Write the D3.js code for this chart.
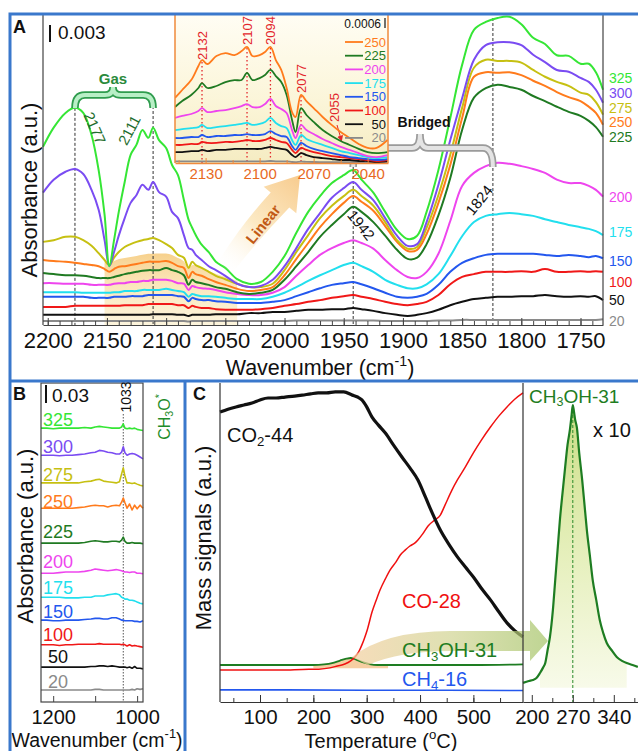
<!DOCTYPE html>
<html>
<head>
<meta charset="utf-8">
<script src="https://cdn.jsdelivr.net/npm/d3@7/dist/d3.min.js"></script>
<style>
html,body{margin:0;padding:0;background:#fff;}
svg{display:block;}
text{font-family:"Liberation Sans",Arial,Helvetica,sans-serif;}
</style>
</head>
<body>
<svg id="fig" width="638" height="751"></svg>
<script>
// ---------------- Panel A: CO region spectra (mAbs) ----------------
const wnA = [2204, 2195, 2185, 2177, 2170, 2163, 2157, 2152, 2148, 2144, 2140, 2135, 2130, 2125, 2120, 2115, 2111, 2106, 2100, 2095,
  2090, 2085, 2081, 2078, 2075, 2070, 2064, 2058, 2050, 2040, 2030, 2020, 2010, 2000, 1990, 1980, 1970, 1960, 1950, 1942,
  1935, 1925, 1915, 1905, 1896, 1888, 1880, 1870, 1860, 1850, 1840, 1830, 1820, 1810, 1800, 1790, 1780, 1770, 1760, 1750,
  1743, 1737, 1731];
const a325 = [31.5, 34.9, 37.5, 38.4, 37.5, 33.6, 27.4, 19.5, 10.4, 15.0, 20.0, 25.3, 30.1, 31.9, 34.5, 33.1, 34.9, 32.7, 31.3, 28.3,
  26.5, 22.1, 18.6, 17.2, 15.9, 14.2, 12.9, 11.2, 10.1, 8.1, 7.3, 7.6, 9.4, 12.2, 16.3, 20.0, 22.8, 25.1, 26.5, 27.4,
  25.7, 23.4, 20.0, 16.8, 15.2, 15.8, 20.0, 27.4, 36.6, 46.0, 52.2, 53.6, 54.3, 54.5, 53.2, 50.8, 49.7, 47.7, 47.6, 46.2,
  46.2, 44.7, 41.6];
const a300 = [23.4, 25.7, 27.1, 27.6, 26.7, 23.9, 20.4, 15.0, 10.4, 12.9, 15.8, 18.9, 21.6, 23.0, 24.8, 23.9, 25.3, 23.5, 22.7, 20.0,
  18.9, 15.9, 13.6, 13.3, 12.4, 11.5, 10.4, 9.7, 8.7, 7.3, 6.7, 6.9, 8.0, 10.4, 13.6, 17.0, 19.8, 22.5, 24.2, 25.3,
  23.9, 22.1, 18.9, 15.8, 14.0, 14.3, 18.2, 24.8, 32.7, 40.1, 46.9, 49.5, 50.0, 50.0, 49.5, 47.8, 46.5, 45.1, 44.8, 43.7,
  43.0, 41.6, 39.3];
const a275 = [14.7, 15.0, 15.6, 15.6, 15.0, 14.0, 12.7, 11.5, 10.6, 11.9, 12.9, 13.8, 14.3, 14.7, 15.0, 15.2, 15.4, 15.0, 14.3, 13.6,
  12.4, 11.9, 10.1, 11.2, 10.6, 10.1, 9.4, 8.7, 8.1, 7.3, 6.7, 6.7, 7.3, 9.7, 12.9, 15.9, 18.9, 21.1, 22.8, 23.9,
  22.8, 21.1, 18.2, 15.0, 13.5, 13.8, 17.2, 23.0, 30.1, 38.4, 45.5, 46.9, 46.7, 46.7, 46.4, 45.1, 43.9, 43.0, 42.3, 41.1,
  40.7, 39.4, 37.2];
const a250 = [11.5, 11.3, 11.2, 11.0, 10.8, 10.6, 10.4, 9.9, 9.4, 9.9, 10.3, 10.4, 10.6, 10.8, 11.0, 11.2, 11.2, 11.2, 11.3, 11.0,
  10.4, 10.1, 8.3, 9.4, 9.0, 8.7, 8.1, 7.6, 7.1, 6.4, 6.0, 6.2, 6.7, 8.8, 11.7, 14.5, 17.3, 19.6, 21.6, 22.8,
  21.8, 20.2, 17.5, 14.7, 13.1, 13.3, 16.1, 21.6, 28.3, 36.6, 43.9, 44.7, 44.6, 44.7, 44.2, 43.2, 42.3, 41.2, 40.3, 39.6,
  38.6, 37.5, 35.4];
const a225 = [9.2, 9.0, 8.8, 8.8, 8.7, 8.5, 8.3, 8.3, 8.3, 8.5, 8.7, 9.0, 9.2, 9.4, 9.6, 9.7, 9.7, 9.7, 10.1, 9.7,
  9.4, 8.8, 7.1, 8.0, 7.6, 7.4, 7.1, 6.7, 6.4, 5.8, 5.5, 5.7, 6.2, 8.0, 10.4, 12.9, 15.6, 17.7, 19.6, 20.9,
  20.0, 18.2, 15.8, 13.3, 11.7, 11.9, 14.3, 19.4, 26.0, 34.5, 40.2, 41.9, 42.5, 42.1, 41.6, 40.5, 39.6, 38.6, 37.7, 37.0,
  36.1, 35.0, 33.3];
const a200 = [7.4, 7.4, 7.3, 7.3, 7.3, 7.1, 7.1, 7.1, 7.1, 7.3, 7.4, 7.4, 7.6, 7.6, 7.8, 7.8, 8.0, 8.0, 8.0, 7.8,
  7.4, 7.3, 6.2, 6.9, 6.7, 6.5, 6.4, 6.2, 5.8, 5.5, 5.3, 5.3, 5.7, 6.7, 8.7, 10.6, 12.4, 13.6, 14.5, 15.0,
  14.5, 13.5, 11.5, 9.7, 8.5, 8.3, 9.4, 12.6, 18.4, 24.6, 26.9, 28.1, 28.7, 28.5, 28.1, 27.6, 26.9, 25.7, 25.1, 25.1,
  24.6, 23.9, 22.7];
const a175 = [5.8, 5.8, 5.8, 5.8, 5.7, 5.7, 5.7, 5.7, 5.7, 5.8, 5.8, 6.0, 6.0, 6.0, 6.2, 6.2, 6.2, 6.2, 6.4, 6.2,
  6.0, 5.8, 5.0, 5.5, 5.3, 5.1, 5.1, 5.0, 4.8, 4.6, 4.6, 4.6, 5.0, 5.7, 6.7, 7.8, 8.8, 9.7, 10.6, 11.0,
  10.4, 9.4, 8.0, 7.1, 6.5, 6.5, 7.2, 9.0, 12.2, 15.7, 18.2, 19.3, 19.6, 19.8, 19.6, 19.3, 18.7, 18.2, 17.7, 17.3,
  17.0, 16.6, 15.9];
const a150 = [5.0, 5.0, 5.0, 5.0, 5.0, 4.8, 4.8, 4.8, 4.8, 5.0, 5.0, 5.0, 5.1, 5.1, 5.1, 5.3, 5.3, 5.3, 5.3, 5.3,
  5.1, 5.0, 4.2, 4.8, 4.6, 4.4, 4.4, 4.2, 4.1, 3.9, 3.9, 3.9, 4.1, 4.4, 5.1, 5.8, 6.5, 7.1, 7.4, 7.6,
  7.2, 6.5, 5.7, 5.0, 4.8, 5.0, 5.5, 7.1, 9.4, 11.0, 11.8, 12.4, 12.6, 12.6, 12.6, 12.6, 12.4, 12.2, 12.4, 12.2,
  12.0, 12.2, 11.8];
const a100 = [3.2, 3.2, 3.2, 3.4, 3.4, 3.4, 3.4, 3.4, 3.4, 3.4, 3.4, 3.5, 3.5, 3.5, 3.5, 3.7, 3.7, 3.7, 3.7, 3.7,
  3.5, 3.5, 3.0, 3.4, 3.2, 3.0, 3.0, 2.8, 2.7, 2.7, 2.7, 2.8, 3.0, 3.4, 3.7, 4.1, 4.4, 4.8, 5.1, 5.3,
  5.0, 4.6, 4.1, 3.7, 3.5, 3.7, 4.1, 5.3, 7.2, 8.5, 9.0, 9.4, 9.4, 9.4, 9.5, 9.4, 9.9, 9.4, 9.4, 9.5,
  9.4, 9.5, 9.4];
const a50 = [1.8, 1.8, 1.8, 1.8, 1.8, 1.8, 1.8, 1.8, 1.8, 1.8, 1.8, 1.8, 1.8, 1.8, 1.8, 1.8, 1.9, 1.9, 1.9, 1.9,
  1.8, 1.8, 1.6, 1.8, 1.8, 1.8, 1.8, 1.9, 1.9, 1.9, 2.1, 2.1, 2.3, 2.3, 2.5, 2.7, 2.7, 2.8, 2.8, 3.0,
  2.8, 2.5, 2.1, 1.8, 1.6, 1.8, 2.1, 2.7, 3.5, 4.1, 4.6, 4.8, 5.0, 5.0, 5.1, 5.1, 5.3, 5.1, 5.0, 5.1,
  5.0, 5.1, 4.4];
const a20 = [0.7, 0.7, 0.7, 0.7, 0.7, 0.7, 0.7, 0.7, 0.7, 0.7, 0.7, 0.7, 0.7, 0.7, 0.7, 0.7, 0.7, 0.7, 0.7, 0.7,
  0.7, 0.7, 0.6, 0.7, 0.7, 0.7, 0.7, 0.7, 0.7, 0.7, 0.7, 0.7, 0.7, 0.7, 0.8, 0.8, 0.8, 0.8, 0.8, 0.8,
  0.8, 0.8, 0.7, 0.7, 0.7, 0.7, 0.7, 0.8, 0.8, 0.9, 0.9, 0.9, 0.9, 0.9, 0.9, 0.9, 0.9, 0.9, 0.9, 0.9,
  0.9, 0.9, 1.0];
const tempsA = ["20", "50", "100", "150", "175", "200", "225", "250", "275", "300", "325"];
const bandsA = [2177, 2111, 1942, 1824];
const ticksA = [2200, 2150, 2100, 2050, 2000, 1950, 1900, 1850, 1800, 1750];

// ---------------- Inset of panel A (mAbs) ----------------
const wnInset = [2147, 2143, 2138, 2134, 2132, 2129, 2124, 2119, 2114, 2110, 2107, 2104, 2100, 2097, 2094, 2091, 2088, 2085, 2082, 2080,
  2077, 2074, 2070, 2065, 2060, 2055, 2050, 2045, 2040, 2035, 2029];
const i250 = [3.93, 4.41, 5.01, 5.86, 6.22, 5.98, 6.46, 6.64, 6.52, 6.76, 7.01, 6.46, 6.52, 6.70, 7.01, 6.22, 5.62, 4.53, 3.08, 2.78,
  4.11, 3.74, 3.32, 2.78, 2.30, 1.87, 1.51, 1.15, 0.91, 0.91, 1.39];
const i225 = [3.38, 3.74, 4.11, 4.53, 4.83, 4.53, 4.65, 4.89, 5.01, 5.01, 5.44, 5.01, 5.13, 5.32, 5.62, 5.25, 4.89, 4.11, 2.60, 1.87,
  3.32, 2.90, 2.48, 1.99, 1.63, 1.33, 1.09, 0.85, 0.66, 0.60, 0.66];
const i200 = [2.72, 2.84, 2.96, 3.14, 3.32, 3.08, 3.14, 3.20, 3.32, 3.44, 3.56, 3.38, 3.38, 3.56, 3.87, 3.44, 3.26, 3.02, 1.99, 1.51,
  2.30, 1.99, 1.75, 1.45, 1.21, 0.97, 0.79, 0.60, 0.42, 0.36, 0.48];
const i175 = [1.99, 2.05, 2.11, 2.17, 2.30, 2.11, 2.17, 2.23, 2.30, 2.36, 2.42, 2.30, 2.36, 2.48, 2.72, 2.42, 2.23, 2.11, 1.39, 1.09,
  1.69, 1.45, 1.27, 1.09, 0.91, 0.72, 0.60, 0.48, 0.36, 0.30, 0.36];
const i150 = [1.51, 1.51, 1.57, 1.57, 1.69, 1.57, 1.63, 1.63, 1.69, 1.69, 1.75, 1.69, 1.69, 1.75, 1.93, 1.75, 1.63, 1.57, 1.03, 0.79,
  1.21, 1.03, 0.85, 0.72, 0.60, 0.48, 0.36, 0.30, 0.24, 0.18, 0.24];
const i100 = [1.09, 1.09, 1.15, 1.15, 1.27, 1.21, 1.21, 1.27, 1.27, 1.33, 1.39, 1.33, 1.33, 1.39, 1.51, 1.39, 1.27, 1.21, 0.79, 0.60,
  0.91, 0.79, 0.66, 0.54, 0.42, 0.36, 0.30, 0.24, 0.18, 0.12, 0.18];
const i50 = [0.66, 0.66, 0.72, 0.72, 0.79, 0.72, 0.79, 0.79, 0.85, 0.85, 0.85, 0.85, 0.85, 0.91, 0.97, 0.91, 0.85, 0.79, 0.48, 0.36,
  0.60, 0.48, 0.36, 0.30, 0.24, 0.18, 0.18, 0.12, 0.12, 0.06, 0.12];
const i20 = [0.10, 0.10, 0.10, 0.10, 0.10, 0.10, 0.10, 0.10, 0.10, 0.10, 0.10, 0.10, 0.10, 0.10, 0.12, 0.10, 0.10, 0.10, 0.06, 0.05,
  0.08, 0.07, 0.06, 0.05, 0.05, 0.05, 0.05, 0.05, 0.05, 0.05, 0.05];
const tempsInset = ["250", "225", "200", "175", "150", "100", "50", "20"];
const peaksInset = [2132, 2107, 2094, 2077];
const ticksInset = [2130, 2100, 2070, 2040];

// ---------------- Panel B: methoxy region (mAbs) ----------------
const wnB = [1229, 1215, 1200, 1185, 1170, 1155, 1140, 1125, 1110, 1100, 1090, 1080, 1070, 1060, 1050, 1042, 1037, 1033, 1029, 1024,
  1018, 1012, 1006, 1000, 993, 986];
const b325 = [455, 455, 454, 455, 455, 455, 455, 456, 455, 457, 458, 457, 456, 455, 455, 455, 457, 462, 455, 454, 455, 454, 455, 453, 452, 451];
const b300 = [410, 410, 410, 409, 410, 410, 411, 412, 414, 415, 418, 417, 415, 414, 412, 412, 415, 424, 414, 410, 412, 413, 412, 410, 407, 404];
const b275 = [364, 364, 364, 364, 364, 364, 364, 366, 367, 369, 370, 367, 366, 365, 364, 366, 379, 389, 375, 364, 364, 363, 364, 362, 360, 359];
const b250 = [322, 322, 322, 322, 322, 322, 323, 324, 326, 327, 326, 326, 324, 326, 327, 326, 332, 339, 331, 322, 329, 319, 327, 321, 327, 322];
const b225 = [264, 264, 264, 264, 264, 264, 264, 265, 267, 268, 267, 266, 266, 267, 267, 266, 269, 274, 267, 264, 264, 265, 264, 264, 264, 263];
const b200 = [214, 214, 214, 215, 216, 216, 216, 217, 219, 221, 220, 219, 218, 219, 220, 219, 218, 217, 216, 216, 215, 216, 216, 214, 214, 213];
const b175 = [174, 174, 174, 174, 173, 173, 173, 174, 174, 176, 176, 176, 178, 179, 180, 178, 174, 173, 171, 171, 169, 169, 168, 166, 164, 163];
const b150 = [136, 136, 135, 135, 136, 136, 136, 137, 138, 139, 139, 138, 138, 140, 140, 138, 136, 136, 135, 135, 135, 135, 134, 134, 133, 135];
const b100 = [95, 95, 95, 94, 95, 95, 96, 96, 96, 96, 97, 96, 96, 96, 96, 96, 95, 96, 95, 93, 95, 93, 94, 93, 92, 91];
const b50 = [58, 58, 58, 58, 58, 58, 58, 58, 59, 59, 60, 60, 59, 60, 59, 58, 58, 58, 58, 57, 58, 56, 59, 56, 56, 55];
const b20 = [20, 20, 20, 20, 20, 20, 20, 20, 20, 21, 21, 20, 20, 20, 20, 20, 20, 20, 20, 20, 20, 21, 20, 22, 21, 22];
const tempsB = ["325", "300", "275", "250", "225", "200", "175", "150", "100", "50", "20"];
const ticksB = [1200, 1100, 1000];

// ---------------- Panel C: mass signals during TPSR (a.u.) ----------------
const tCO2 = [25, 40, 55, 70, 85, 100, 115, 130, 147, 165, 179, 195, 209, 225, 241, 257, 273, 283, 291, 300,
  310, 322, 335, 350, 366, 381, 396, 410, 423, 438, 455, 470, 485, 500, 516, 532, 548, 563, 578, 593];
const co2 = [90.9, 91.8, 92.5, 93.1, 93.7, 94.7, 95.3, 95.3, 95.6, 95.9, 96.2, 96.6, 96.9, 96.9, 97.2, 97.2, 96.2, 95.6, 94.7, 92.5,
  89.3, 86.8, 84.3, 80.6, 76.8, 73.4, 69.6, 64.3, 59.2, 53.9, 49.2, 45.5, 42.3, 39.2, 35.4, 32.0, 28.2, 24.8, 22.3, 20.4];
const tCO = [25, 60, 100, 140, 180, 210, 231, 245, 259, 270, 278, 285, 291, 296, 301, 310, 318, 325, 335, 344,
  355, 363, 372, 381, 390, 396, 405, 415, 428, 438, 447, 460, 470, 485, 500, 515, 532, 548, 563, 578, 593];
const co = [10.0, 10.0, 10.0, 10.0, 10.2, 10.3, 10.7, 11.3, 11.9, 12.9, 14.1, 15.7, 17.9, 20.1, 22.6, 28.2, 32.0, 35.1, 38.6, 41.4,
  43.9, 46.1, 47.6, 48.9, 49.8, 50.8, 52.7, 55.2, 57.1, 58.6, 61.8, 66.5, 69.6, 73.7, 78.1, 82.1, 86.2, 89.7, 92.5, 95.0, 96.9];
const tMeOH = [25, 100, 200, 220, 235, 250, 262, 270, 280, 292, 305, 320, 340, 400, 500, 593];
const meoh = [11.6, 11.6, 11.6, 11.8, 12.2, 13.0, 13.6, 13.8, 13.3, 12.5, 11.9, 11.6, 11.6, 11.6, 11.6, 11.8];
const tCH4 = [25, 150, 300, 450, 593];
const ch4 = [3.8, 3.8, 3.7, 3.7, 3.6];
const tZoom = [185, 195, 202, 208, 214, 219, 223, 227, 231, 236, 240, 244, 248, 253, 257, 261, 265, 268, 270, 272,
  274, 277, 281, 286, 290, 294, 299, 304, 310, 316, 322, 328, 336, 345, 354, 362, 372, 381];
const meohX10 = [6.0, 6.6, 6.9, 7.5, 9.1, 10.7, 12.2, 16.3, 20.4, 28.8, 38.2, 47.6, 57.1, 66.5, 73.7, 80.6, 85.3, 90.0, 93.1, 91.0,
  88.5, 86.0, 78.0, 69.6, 61.8, 53.9, 46.1, 38.2, 32.0, 25.7, 21.6, 18.5, 16.3, 14.1, 12.9, 12.2, 11.6, 11.0];
const ticksC = [100, 200, 300, 400, 500];
const ticksZoom = [200, 270, 340];
const peakZoom = 270;

// ---------------- drawing ----------------
const palette = {
  "325": "#35e635", "300": "#7a4cf2", "275": "#c6c012", "250": "#ff7b1c", "225": "#1f7a22",
  "200": "#ee45ee", "175": "#22dfee", "150": "#2357ee", "100": "#f01818", "50": "#111111", "20": "#8a8a8a"
};
const dataA = {"325": a325, "300": a300, "275": a275, "250": a250, "225": a225, "200": a200, "175": a175, "150": a150, "100": a100, "50": a50, "20": a20};
const dataInset = {"250": i250, "225": i225, "200": i200, "175": i175, "150": i150, "100": i100, "50": i50, "20": i20};
const dataB = {"325": b325, "300": b300, "275": b275, "250": b250, "225": b225, "200": b200, "175": b175, "150": b150, "100": b100, "50": b50, "20": b20};

const svg = d3.select("#fig");
const defs = svg.append("defs");
const INK = "#111";

function linGrad(id, x1, y1, x2, y2, stops, userSpace) {
  const g = defs.append("linearGradient").attr("id", id)
    .attr("x1", x1).attr("y1", y1).attr("x2", x2).attr("y2", y2);
  if (userSpace) g.attr("gradientUnits", "userSpaceOnUse");
  stops.forEach(s => g.append("stop").attr("offset", s[0]).attr("stop-color", s[1]).attr("stop-opacity", s[2] == null ? 1 : s[2]));
}
function rich(sel, parts, size) {
  let shift = 0;
  parts.forEach(p => {
    const target = p[1] === "sub" ? size * 0.18 : p[1] === "sup" ? -size * 0.42 : 0;
    const ts = sel.append("tspan").attr("dy", target - shift).text(p[0]);
    if (p[1]) ts.attr("font-size", size * 0.66);
    shift = target;
  });
}
function styleAxis(g, size, color) {
  g.attr("font-family", null).attr("font-size", size).attr("color", color || "#333");
  g.selectAll("text").attr("fill", INK);
}
function bracket(g, x1, x2, xm, yEnd, yBar, yTip, outer, inner) {
  const r = 10, r2 = 8;
  const d = `M${x1},${yEnd} Q${x1},${yBar} ${x1 + r},${yBar} L${xm - r2},${yBar} Q${xm},${yBar} ${xm},${yTip} ` +
    `Q${xm},${yBar} ${xm + r2},${yBar} L${x2 - r},${yBar} Q${x2},${yBar} ${x2},${yEnd}`;
  g.append("path").attr("d", d).attr("fill", "none").attr("stroke", outer).attr("stroke-width", 7.5);
  g.append("path").attr("d", d).attr("fill", "none").attr("stroke", inner).attr("stroke-width", 4);
}

// ===== Panel A =====
const xA = d3.scaleLinear().domain([2204, 1731]).range([43, 603]);
const yA = d3.scaleLinear().domain([0, 55]).range([325, 14]);
const gA = svg.append("g");

linGrad("shadeA", 0, 0, 0, 1, [[0, "#f5c570", 0.8], [0.45, "#f8da98", 0.65], [1, "#fbeec6", 0.6]]);
const shadeIdx = d3.range(wnA.length).filter(i => wnA[i] <= 2152 && wnA[i] >= 2040);
gA.append("path").datum(shadeIdx)
  .attr("d", d3.area().x(i => xA(wnA[i])).y0(yA(0)).y1(i => yA(a250[i]) - 8).curve(d3.curveBasis))
  .attr("fill", "url(#shadeA)");

// band markers
const bandTop = {2177: yA(a325[3]), 2111: 106, 1942: 166, 1824: 18};
bandsA.forEach(b => gA.append("line").attr("x1", xA(b)).attr("x2", xA(b)).attr("y1", bandTop[b]).attr("y2", yA(0))
  .attr("stroke", "#333").attr("stroke-width", 1).attr("stroke-dasharray", "3,2"));

const lineA = d3.line().x((d, i) => xA(wnA[i])).y(d => yA(d)).curve(d3.curveCatmullRom.alpha(0.5));
tempsA.forEach(t => gA.append("path").datum(dataA[t]).attr("d", lineA)
  .attr("fill", "none").attr("stroke", palette[t]).attr("stroke-width", 2).attr("stroke-linejoin", "round"));

// frame and axis
gA.append("path").attr("d", `M43,14 V325 M603,14 V325`).attr("stroke", "#444").attr("stroke-width", 1.2);
gA.append("g").attr("transform", "translate(0,325)")
  .call(d3.axisBottom(xA).tickValues(d3.range(2200, 1735, -10)).tickSize(-4).tickSizeOuter(0).tickFormat(""))
  .call(g => g.select(".domain").remove()).call(g => styleAxis(g, 10, "#444"));
gA.append("g").attr("transform", "translate(0,325)")
  .call(d3.axisBottom(xA).tickValues(ticksA).tickSize(-7).tickSizeOuter(0).tickPadding(7).tickFormat(d3.format("d")))
  .call(g => styleAxis(g, 22, "#444"));

const tAx = gA.append("text").attr("x", 320).attr("y", 375).attr("text-anchor", "middle").attr("font-size", 21.5).attr("fill", INK);
rich(tAx, [["Wavenumber (cm", null], ["-1", "sup"], [")", null]], 21.5);
gA.append("text").attr("transform", "translate(37,190) rotate(-90)").attr("text-anchor", "middle")
  .attr("font-size", 22).attr("fill", INK).text("Absorbance (a.u.)");

// series labels on the right
const labelYA = {"325": 78, "300": 93, "275": 107.5, "250": 122, "225": 136.5, "200": 197, "175": 232, "150": 261, "100": 282, "50": 300, "20": 321};
tempsA.forEach(t => gA.append("text").attr("x", 609).attr("y", labelYA[t] + 5).attr("font-size", 14)
  .attr("fill", palette[t]).text(t));

// scale bar + panel letter
gA.append("text").attr("x", 13).attr("y", 33).attr("font-size", 18).attr("font-weight", "bold").attr("fill", INK).text("A");
gA.append("line").attr("x1", 50).attr("x2", 50).attr("y1", 42).attr("y2", 42 - (yA(0) - yA(3))).attr("stroke", INK).attr("stroke-width", 2);
gA.append("text").attr("x", 58).attr("y", 39).attr("font-size", 19).attr("fill", INK).text("0.003");

// linear-CO arrow
linGrad("linArrow", 225, 268, 300, 175, [[0, "#ffffff", 0.1], [0.45, "#fbe2b0", 0.75], [1, "#f6c27a", 0.85]], true);
gA.append("path")
  .attr("d", "M218,262.3 Q240,226 270.7,192.5 L263.7,186.8 L300.1,175.1 L296.3,213.2 L289.3,207.5 Q256,242 232,273.7 Z")
  .attr("fill", "url(#linArrow)");
gA.append("text").attr("transform", "translate(263,224) rotate(-51)").attr("text-anchor", "middle")
  .attr("dominant-baseline", "central").attr("font-size", 15).attr("font-weight", "bold").attr("fill", "#c25a16").text("Linear");

// gas-phase bracket
bracket(gA, xA(2177), xA(2111), 113, 108, 95, 87, "#2f9c4e", "#b8efc6");
gA.append("text").attr("x", 113).attr("y", 84).attr("text-anchor", "middle").attr("font-size", 15)
  .attr("font-weight", "bold").attr("fill", "#2b8a3c").text("Gas");

// rotated band labels
const bandLab = [
  {wn: 2177, dx: 20, y: 128, rot: 66, c: "#1f6e2e"},
  {wn: 2111, dx: -24, y: 130, rot: -62, c: "#1f6e2e"},
  {wn: 1942, dx: 8, y: 225, rot: 51, c: INK},
  {wn: 1824, dx: -14, y: 200, rot: -51, c: INK}
];
bandLab.forEach(b => gA.append("text")
  .attr("transform", `translate(${xA(b.wn) + b.dx},${b.y}) rotate(${b.rot})`)
  .attr("text-anchor", "middle").attr("dominant-baseline", "central").attr("font-size", 15).attr("fill", b.c).text(b.wn));

// ===== Inset =====
const xI = d3.scaleLinear().domain([2147, 2028.7]).range([175, 388]);
const yI = d3.scaleLinear().domain([0, 9]).range([163, 14]);
const gI = svg.append("g");
linGrad("insetBg", 0, 0, 0, 1, [[0, "#fffdf4"], [0.6, "#fbf5d8"], [1, "#f5ecc2"]]);
gI.append("rect").attr("x", 175).attr("y", 14).attr("width", 213).attr("height", 149).attr("fill", "url(#insetBg)");
defs.append("clipPath").attr("id", "clipI").append("rect").attr("x", 175).attr("y", 14).attr("width", 213).attr("height", 149);

const peakTop = {2132: 62, 2107: 48, 2094: 48, 2077: 96};
const peakLab = {2132: 60, 2107: 45, 2094: 45, 2077: 93};
peaksInset.forEach(p => {
  gI.append("line").attr("x1", xI(p)).attr("x2", xI(p)).attr("y1", peakTop[p]).attr("y2", 163)
    .attr("stroke", "#e3262b").attr("stroke-width", 1.3).attr("stroke-dasharray", "1.5,2.5");
  gI.append("text").attr("transform", `translate(${xI(p) + 4.6},${peakLab[p]}) rotate(-90)`)
    .attr("font-size", 13).attr("fill", "#e3262b").text(p);
});
gI.append("text").attr("transform", `translate(339,122) rotate(-90)`).attr("font-size", 13).attr("fill", "#e3262b").text("2055");
defs.append("marker").attr("id", "redHead").attr("viewBox", "0 0 10 10").attr("refX", 9).attr("refY", 5)
  .attr("markerWidth", 6).attr("markerHeight", 6).attr("orient", "auto")
  .append("path").attr("d", "M0,0 L10,5 L0,10 Z").attr("fill", "#e3262b");
gI.append("line").attr("x1", 337).attr("y1", 125).attr("x2", xI(2055) + 1).attr("y2", 141)
  .attr("stroke", "#e3262b").attr("stroke-width", 1).attr("marker-end", "url(#redHead)");

const lineI = d3.line().x((d, i) => xI(wnInset[i])).y(d => yI(d)).curve(d3.curveCatmullRom.alpha(0.5));
const gIc = gI.append("g").attr("clip-path", "url(#clipI)");
tempsInset.slice().reverse().forEach(t => gIc.append("path").datum(dataInset[t]).attr("d", lineI)
  .attr("fill", "none").attr("stroke", palette[t]).attr("stroke-width", 1.8).attr("stroke-linejoin", "round"));

gI.append("path").attr("d", "M175,14 V163 M388,14 V163").attr("stroke", "#f08a3c").attr("stroke-width", 1.5);
gI.append("g").attr("transform", "translate(0,163)")
  .call(d3.axisBottom(xI).tickValues([2145, 2115, 2085, 2055]).tickSize(-3).tickSizeOuter(0).tickFormat(""))
  .call(g => g.select(".domain").remove()).call(g => styleAxis(g, 10, "#f08a3c"));
gI.append("g").attr("transform", "translate(0,163)")
  .call(d3.axisBottom(xI).tickValues(ticksInset).tickSize(-5).tickSizeOuter(0).tickPadding(5).tickFormat(d3.format("d")))
  .call(g => { styleAxis(g, 15, "#f08a3c"); g.select(".domain").attr("stroke-width", 1.5); g.selectAll("text").attr("fill", "#e8691e"); });

// inset legend
gI.append("text").attr("x", 381).attr("y", 28).attr("text-anchor", "end").attr("font-size", 12).attr("fill", INK).text("0.0006");
gI.append("line").attr("x1", 385).attr("x2", 385).attr("y1", 28).attr("y2", 28 - (yI(0) - yI(0.6))).attr("stroke", INK).attr("stroke-width", 1.2);
tempsInset.forEach((t, k) => {
  const y = 42 + k * 13.7;
  gI.append("line").attr("x1", 345).attr("x2", 363).attr("y1", y).attr("y2", y).attr("stroke", palette[t]).attr("stroke-width", 1.8);
  gI.append("text").attr("x", 386).attr("y", y + 4.5).attr("text-anchor", "end").attr("font-size", 13).attr("fill", palette[t]).text(t);
});

// bridged-CO bracket (over the inset)
bracket(gA.append("g"), xA(1942), xA(1824), 420, 167, 148, 134, "#9b9b9b", "#e4e4e4");
svg.append("text").attr("x", 424).attr("y", 127).attr("text-anchor", "middle").attr("font-size", 14)
  .attr("font-weight", "bold").attr("fill", INK).text("Bridged");

// ===== Panel B =====
const xB = d3.scaleLinear().domain([1229, 986]).range([41, 143]);
const yB = d3.scaleLinear().domain([0, 530]).range([702, 383]);
const gB = svg.append("g");
gB.append("line").attr("x1", xB(1033)).attr("x2", xB(1033)).attr("y1", 414).attr("y2", 702)
  .attr("stroke", "#555").attr("stroke-width", 1).attr("stroke-dasharray", "1.5,1.5");
const lineB = d3.line().x((d, i) => xB(wnB[i])).y(d => yB(d)).curve(d3.curveLinear);
tempsB.forEach(t => gB.append("path").datum(dataB[t]).attr("d", lineB)
  .attr("fill", "none").attr("stroke", palette[t]).attr("stroke-width", 1.6).attr("stroke-linejoin", "round"));
gB.append("rect").attr("x", 41).attr("y", 383).attr("width", 102).attr("height", 319)
  .attr("fill", "none").attr("stroke", "#444").attr("stroke-width", 1.2);
gB.append("g").attr("transform", "translate(0,702)")
  .call(d3.axisBottom(xB).tickValues(ticksB).tickSize(-6).tickSizeOuter(0).tickPadding(8)
    .tickFormat(d => (d === 1100 ? "" : d)))
  .call(g => g.select(".domain").remove()).call(g => styleAxis(g, 20, "#444"));
const labelYB = {"325": 420, "300": 447, "275": 475, "250": 502, "225": 532, "200": 562, "175": 588, "150": 612, "100": 635, "50": 657, "20": 682};
tempsB.forEach(t => gB.append("text").attr("x", 58).attr("y", labelYB[t] + 6).attr("text-anchor", "middle")
  .attr("font-size", 18).attr("fill", palette[t]).text(t));
gB.append("text").attr("x", 13).attr("y", 400).attr("font-size", 18).attr("font-weight", "bold").attr("fill", INK).text("B");
gB.append("line").attr("x1", 46).attr("x2", 46).attr("y1", 403).attr("y2", 403 - (yB(0) - yB(30))).attr("stroke", INK).attr("stroke-width", 2);
gB.append("text").attr("x", 52).attr("y", 402).attr("font-size", 19).attr("fill", INK).text("0.03");
gB.append("text").attr("transform", `translate(${xB(1033) + 8},397) rotate(-90)`).attr("text-anchor", "middle")
  .attr("font-size", 14).attr("fill", INK).text("1033");
const ch3o = gB.append("text").attr("transform", "translate(170,417) rotate(-90)").attr("text-anchor", "middle")
  .attr("font-size", 16).attr("fill", "#1e8c2a");
rich(ch3o, [["CH", null], ["3", "sub"], ["O", null], ["*", "sup"]], 16);
gB.append("text").attr("transform", "translate(33,536) rotate(-90)").attr("text-anchor", "middle")
  .attr("font-size", 22).attr("fill", INK).text("Absorbance (a.u.)");
const tBx = gB.append("text").attr("x", 97).attr("y", 746.5).attr("text-anchor", "middle").attr("font-size", 19.5).attr("fill", INK);
rich(tBx, [["Wavenumber (cm", null], ["-1", "sup"], [")", null]], 19.5);

// ===== Panel C =====
const xC = d3.scaleLinear().domain([25, 593]).range([220, 523]);
const yC = d3.scaleLinear().domain([0, 100]).range([702, 383]);
const xZ = d3.scaleLinear().domain([185, 383]).range([523, 639]);
const gC = svg.append("g");

// highlighted methanol shoulder
const hiIdx = d3.range(tMeOH.length).filter(i => tMeOH[i] >= 200 && tMeOH[i] <= 340);
gC.append("path").datum(hiIdx)
  .attr("d", d3.area().x(i => xC(tMeOH[i])).y0(yC(10.6)).y1(i => yC(meoh[i])).curve(d3.curveBasis))
  .attr("fill", "#f4c592").attr("opacity", 0.85);

// zoomed methanol peak fill
linGrad("zoomFill", 0, 0, 0, 1, [[0, "#c8dc7e", 0.95], [0.55, "#e2edb2", 0.85], [1, "#f6f9e4", 0.8]]);
const zIdx = d3.range(tZoom.length).filter(i => tZoom[i] >= 212 && tZoom[i] <= 362);
gC.append("path").datum(zIdx)
  .attr("d", d3.area().x(i => xZ(tZoom[i])).y0(yC(4.5)).y1(i => yC(meohX10[i])).curve(d3.curveMonotoneX))
  .attr("fill", "url(#zoomFill)");
gC.append("line").attr("x1", xZ(peakZoom)).attr("x2", xZ(peakZoom)).attr("y1", yC(93.1)).attr("y2", 702)
  .attr("stroke", "#2a8a2a").attr("stroke-width", 1).attr("stroke-dasharray", "3,2");

const lineC = (xs, sx) => d3.line().x((d, i) => sx(xs[i])).y(d => yC(d)).curve(d3.curveLinear);
gC.append("path").datum(ch4).attr("d", lineC(tCH4, xC)).attr("fill", "none").attr("stroke", "#2357ee").attr("stroke-width", 1.6);
gC.append("path").datum(meoh).attr("d", lineC(tMeOH, xC).curve(d3.curveMonotoneX)).attr("fill", "none").attr("stroke", "#1e7d22").attr("stroke-width", 1.8);
gC.append("path").datum(co).attr("d", lineC(tCO, xC).curve(d3.curveMonotoneX)).attr("fill", "none").attr("stroke", "#f01010").attr("stroke-width", 1.5);
gC.append("path").datum(co2).attr("d", lineC(tCO2, xC).curve(d3.curveMonotoneX)).attr("fill", "none").attr("stroke", "#111").attr("stroke-width", 3.2);
gC.append("path").datum(meohX10).attr("d", lineC(tZoom, xZ).curve(d3.curveMonotoneX)).attr("fill", "none").attr("stroke", "#1e7d22").attr("stroke-width", 2.2);

// transfer arrow to the zoomed view
linGrad("cArrow", 352, 0, 548, 0, [[0, "#f3cf9f", 0.85], [0.5, "#cfd28e", 0.8], [1, "#a6c56a", 0.85]], true);
gC.append("path")
  .attr("d", "M352,657 Q385,631 450,631 L530,631 L530,620 L548,641 L530,661 L530,651 L450,651 Q400,651 368,665 Z")
  .attr("fill", "url(#cArrow)").attr("opacity", 0.85);

// frame and axes
gC.append("path").attr("d", "M220,383 V702 M523,383 V702").attr("stroke", "#333").attr("stroke-width", 1.2);
gC.append("g").attr("transform", "translate(0,702)")
  .call(d3.axisBottom(xC).tickValues(d3.range(50, 600, 50)).tickSize(-4).tickSizeOuter(0).tickFormat(""))
  .call(g => g.select(".domain").remove()).call(g => styleAxis(g, 10, "#333"));
gC.append("g").attr("transform", "translate(0,702)")
  .call(d3.axisBottom(xC).tickValues(ticksC).tickSize(-7).tickSizeOuter(0).tickPadding(7).tickFormat(d3.format("d")))
  .call(g => styleAxis(g, 20.5, "#333"));
gC.append("g").attr("transform", "translate(0,702)")
  .call(d3.axisBottom(xZ).tickValues([235, 305, 375]).tickSize(-4).tickSizeOuter(0).tickFormat(""))
  .call(g => g.select(".domain").remove()).call(g => styleAxis(g, 10, "#333"));
gC.append("g").attr("transform", "translate(0,702)")
  .call(d3.axisBottom(xZ).tickValues(ticksZoom).tickSize(-7).tickSizeOuter(0).tickPadding(7).tickFormat(d3.format("d")))
  .call(g => styleAxis(g, 20.5, "#333"));

const tCx = gC.append("text").attr("x", 381).attr("y", 747.5).attr("text-anchor", "middle").attr("font-size", 20).attr("fill", INK);
rich(tCx, [["Temperature (", null], ["o", "sup"], ["C)", null]], 20);
gC.append("text").attr("transform", "translate(211,538) rotate(-90)").attr("text-anchor", "middle")
  .attr("font-size", 22).attr("fill", INK).text("Mass signals (a.u.)");
gC.append("text").attr("x", 193).attr("y", 400).attr("font-size", 18).attr("font-weight", "bold").attr("fill", INK).text("C");

// trace labels
const lab = (x, y, color, parts, size) => rich(gC.append("text").attr("x", x).attr("y", y).attr("font-size", size).attr("fill", color), parts, size);
lab(227, 442, INK, [["CO", null], ["2", "sub"], ["-44", null]], 20);
lab(402, 608, "#f01010", [["CO-28", null]], 20);
lab(402, 657, "#1e7d22", [["CH", null], ["3", "sub"], ["OH-31", null]], 20);
lab(402, 686, "#2357ee", [["CH", null], ["4", "sub"], ["-16", null]], 20);
lab(529, 403, "#1e7d22", [["CH", null], ["3", "sub"], ["OH-31", null]], 19);
lab(593, 437, INK, [["x 10", null]], 20);

// ===== figure borders =====
svg.append("path").attr("d", "M10,751 V14 H638 M10,381 H638 M185,381 V751")
  .attr("fill", "none").attr("stroke", "#3a78cc").attr("stroke-width", 3);
</script>
</body>
</html>
